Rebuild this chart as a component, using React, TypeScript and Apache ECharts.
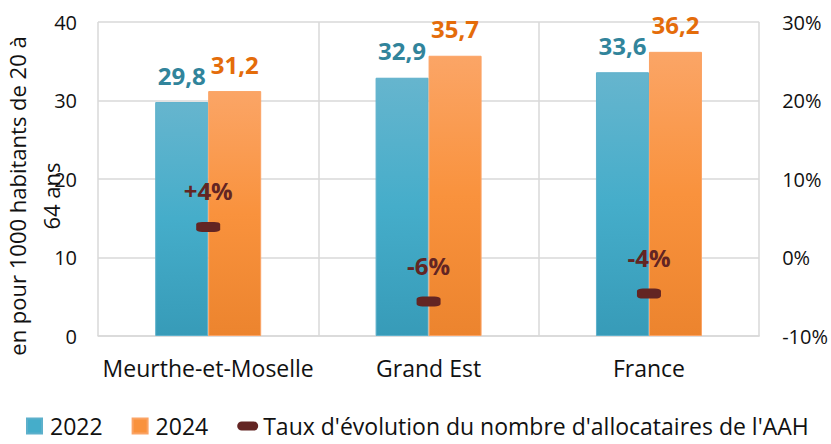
import React, { useEffect, useRef } from "react";
import * as echarts from "echarts";

const categories = ["Meurthe-et-Moselle", "Grand Est", "France"];
const values2022 = [29.8, 32.9, 33.6];
const values2024 = [31.2, 35.7, 36.2];
const rates = [3.9, -5.6, -4.6];
const rateLabels = ["+4%", "-6%", "-4%"];
const seriesNames = ["2022", "2024", "Taux d'évolution du nombre d'allocataires de l'AAH"];
const yAxisTitle = "en pour 1000 habitants de 20 à\n64 ans";

const FONT = "'Open Sans', 'Noto Sans', sans-serif";
const GRID = "#D9D9D9";
const TEAL_LABEL = "#31849B";
const ORANGE_LABEL = "#E46C0A";
const BROWN = "#632523";

const fmt = (v: number) => String(v).replace(".", ",");

export default function App() {
  const ref = useRef<HTMLDivElement>(null);
  useEffect(() => {
    if (!ref.current) return;
    const chart = echarts.init(ref.current, undefined, { renderer: "svg" });
    const tealGrad = new echarts.graphic.LinearGradient(0, 0, 0, 1, [
      { offset: 0, color: "#66B5CE" },
      { offset: 0.5, color: "#45ADCA" },
      { offset: 1, color: "#379BB8" },
    ]);
    const orangeGrad = new echarts.graphic.LinearGradient(0, 0, 0, 1, [
      { offset: 0, color: "#FBA566" },
      { offset: 0.5, color: "#F9923D" },
      { offset: 1, color: "#EC842E" },
    ]);
    chart.setOption({
      animation: false,
      textStyle: { fontFamily: FONT },
      grid: { left: 98, right: 69, top: 22, bottom: 108, containLabel: false },
      legend: {
        left: 26,
        top: 413,
        width: 805,
        padding: 0,
        itemWidth: 21,
        itemHeight: 15,
        itemGap: 29,
        textStyle: { fontFamily: FONT, fontSize: 23, lineHeight: 26, color: "#111" },
        data: [
          { name: seriesNames[0], icon: "path://M0,0H1V1H0Z", itemStyle: { color: "#45ADCA" } },
          { name: seriesNames[1], icon: "path://M0,0H1V1H0Z", itemStyle: { color: "#F9923D" } },
          {
            name: seriesNames[2],
            icon: "path://M4.5,0H16.5A4.5,4.5,0,0,1,16.5,9H4.5A4.5,4.5,0,0,1,4.5,0Z",
            itemStyle: { color: BROWN },
          },
        ],
      },
      xAxis: {
        type: "category",
        data: categories,
        axisLine: { show: true, lineStyle: { color: GRID, width: 1.5 } },
        axisTick: { show: false },
        splitLine: { show: true, interval: 0, lineStyle: { color: GRID, width: 1.5 } },
        axisLabel: { fontFamily: FONT, fontSize: 23, color: "#111", margin: 20, interval: 0 },
      },
      yAxis: [
        {
          type: "value",
          min: 0,
          max: 40,
          interval: 10,
          axisLine: { show: false },
          axisTick: { show: false },
          splitLine: { show: true, lineStyle: { color: GRID, width: 1.5 } },
          axisLabel: { fontFamily: FONT, fontSize: 20, color: "#111", margin: 21 },
        },
        {
          type: "value",
          min: -10,
          max: 30,
          interval: 10,
          axisLine: { show: false },
          axisTick: { show: false },
          splitLine: { show: false },
          axisLabel: { fontFamily: FONT, fontSize: 20, color: "#111", margin: 23, formatter: "{value}%" },
        },
      ],
      graphic: [
        {
          type: "text",
          x: 34,
          y: 196,
          rotation: Math.PI / 2,
          style: {
            text: yAxisTitle,
            font: `22px ${FONT}`,
            fill: "#111",
            align: "center",
            verticalAlign: "middle",
            lineHeight: 34,
          },
        },
      ],
      series: [
        {
          name: seriesNames[0],
          type: "bar",
          data: values2022,
          barWidth: 53,
          barGap: "0%",
          itemStyle: { color: tealGrad, borderColor: "#5DB0CB", borderWidth: 1 },
          label: {
            show: true,
            position: "top",
            distance: 15,
            formatter: (p: any) => fmt(p.value),
            fontFamily: FONT,
            fontSize: 24,
            fontWeight: "bold",
            color: TEAL_LABEL,
          },
        },
        {
          name: seriesNames[1],
          type: "bar",
          data: values2024,
          barWidth: 53,
          barGap: "0%",
          itemStyle: { color: orangeGrad, borderColor: "#FBA364", borderWidth: 1 },
          label: {
            show: true,
            position: "top",
            distance: 15,
            formatter: (p: any) => fmt(p.value),
            fontFamily: FONT,
            fontSize: 24,
            fontWeight: "bold",
            color: ORANGE_LABEL,
          },
        },
        {
          name: seriesNames[2],
          type: "line",
          yAxisIndex: 1,
          data: rates,
          symbol: "roundRect",
          symbolSize: [24, 10],
          itemStyle: { color: BROWN },
          lineStyle: { width: 0, opacity: 0 },
          z: 5,
          label: {
            show: true,
            position: "top",
            distance: 19,
            formatter: (p: any) => rateLabels[p.dataIndex],
            fontFamily: FONT,
            fontSize: 24,
            fontWeight: "bold",
            color: BROWN,
          },
        },
      ],
    });
    return () => chart.dispose();
  }, []);
  return <div ref={ref} style={{ width: 831, height: 444, position: "absolute", left: 0, top: 0 }} />;
}
